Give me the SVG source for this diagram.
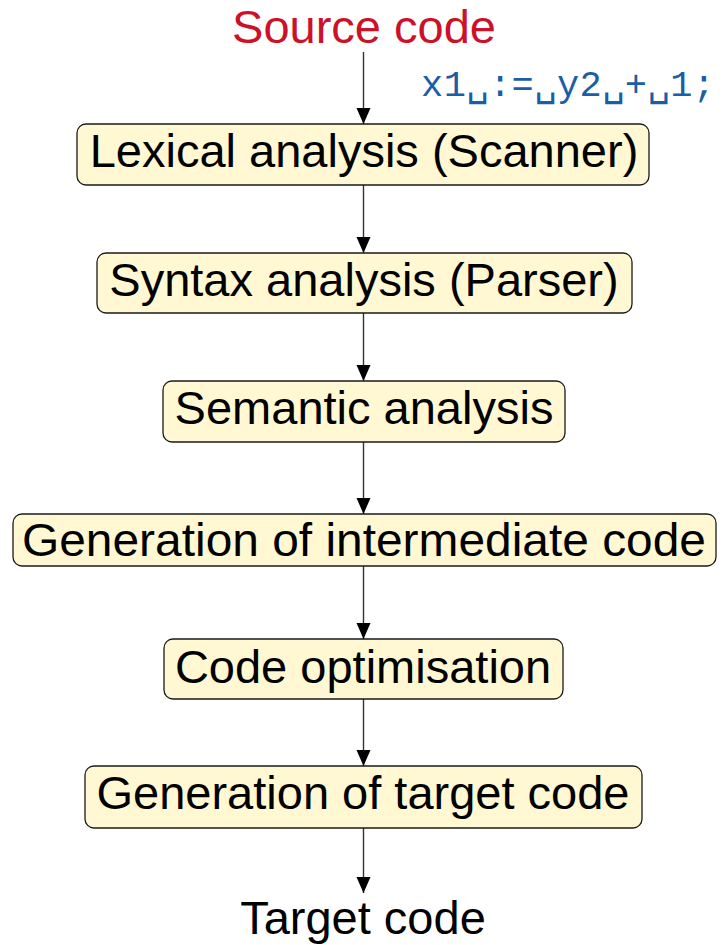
<svg xmlns="http://www.w3.org/2000/svg" width="725" height="945" viewBox="0 0 725 945">
<defs>
<style>
.box{fill:#fff8d2;stroke:#1a1a1a;stroke-width:1.3}
.lbl{font-family:"Liberation Sans",Arial,sans-serif;font-size:47px;fill:#000;text-anchor:middle}
.con{stroke:#333;stroke-width:1.4;fill:none;marker-end:url(#ah)}
</style>
<marker id="ah" markerUnits="userSpaceOnUse" markerWidth="16" markerHeight="16" viewBox="0 0 16 14" refX="16" refY="7" orient="auto">
<path d="M0,0 L16,7 L0,14 Z" fill="#000"/>
</marker>
</defs>
<rect width="725" height="945" fill="#fff"/>
<g id="connectors">
<line class="con" x1="363.5" y1="52" x2="363.5" y2="124"/>
<line class="con" x1="363.5" y1="185" x2="363.5" y2="253"/>
<line class="con" x1="363.5" y1="313" x2="363.5" y2="381"/>
<line class="con" x1="363.5" y1="442" x2="363.5" y2="514"/>
<line class="con" x1="363.5" y1="566" x2="363.5" y2="639"/>
<line class="con" x1="363.5" y1="699" x2="363.5" y2="766"/>
<line class="con" x1="363.5" y1="828" x2="363.5" y2="893"/>
</g>
<g id="source">
<text class="lbl" x="364" y="43" style="fill:#cc1128">Source code</text>
</g>
<g id="code">
<text x="421" y="96" font-family="'Liberation Mono','DejaVu Sans Mono',monospace" font-size="37" fill="#1a5ea6" textLength="294" lengthAdjust="spacing">x1␣:=␣y2␣+␣1;</text>
</g>
<g id="lexical">
<rect class="box" x="77" y="124" width="572" height="61" rx="9"/>
<text class="lbl" x="364" y="167">Lexical analysis (Scanner)</text>
</g>
<g id="syntax">
<rect class="box" x="97" y="253" width="535" height="60" rx="9"/>
<text class="lbl" x="364" y="296">Syntax analysis (Parser)</text>
</g>
<g id="semantic">
<rect class="box" x="163" y="381" width="402" height="61" rx="9"/>
<text class="lbl" x="364" y="424">Semantic analysis</text>
</g>
<g id="intermediate">
<rect class="box" x="13" y="514" width="703" height="52" rx="9"/>
<text class="lbl" x="364" y="556" textLength="684" lengthAdjust="spacingAndGlyphs">Generation of intermediate code</text>
</g>
<g id="optimisation">
<rect class="box" x="164" y="639" width="399" height="60" rx="9"/>
<text class="lbl" x="363" y="683">Code optimisation</text>
</g>
<g id="targetgen">
<rect class="box" x="85" y="766" width="557" height="62" rx="9"/>
<text class="lbl" x="363" y="809">Generation of target code</text>
</g>
<g id="target">
<text class="lbl" x="363" y="934">Target code</text>
</g>
</svg>
